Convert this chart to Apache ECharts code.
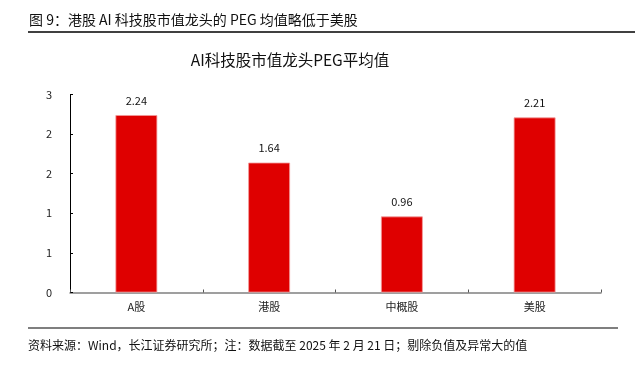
<!DOCTYPE html>
<html><head><meta charset="utf-8">
<script src="https://cdn.jsdelivr.net/npm/echarts@6/dist/echarts.min.js"></script>
<style>html,body{margin:0;padding:0;background:#fff;}#c{width:635px;height:372px;}</style>
</head><body><div id="c"></div>
<script>
var categories = ['A股', '港股', '中概股', '美股'];
var pegValues = [2.24, 1.64, 0.96, 2.21];
var headerText = '图 9：港股 AI 科技股市值龙头的 PEG 均值略低于美股';
var chartTitle = 'AI科技股市值龙头PEG平均值';
var footerText = '资料来源：Wind，长江证券研究所；注：数据截至 2025 年 2 月 21 日；剔除负值及异常大的值';

var font = '"Noto Sans CJK SC", "Liberation Sans", sans-serif';
var chart = echarts.init(document.getElementById('c'));
chart.setOption({
  animation: false,
  backgroundColor: '#fff',
  title: {
    text: chartTitle, left: 285, top: 47, textAlign: 'center',
    textStyle: { fontFamily: font, fontSize: 15.5, fontWeight: 'normal', color: '#111' }
  },
  graphic: [
    { type: 'text', left: 29, top: 13, style: { text: headerText, font: '14px ' + font, fill: '#111' } },
    { type: 'line', shape: { x1: 28, y1: 32, x2: 635, y2: 32 }, style: { stroke: '#000', lineWidth: 1.5 } },
    { type: 'line', shape: { x1: 28, y1: 328, x2: 618, y2: 328 }, style: { stroke: '#000', lineWidth: 1.2 } },
    { type: 'text', left: 28, top: 339, style: { text: footerText, font: '12px ' + font, fill: '#111' } }
  ],
  grid: { left: 70, right: 34, top: 94.5, bottom: 79.5 },
  xAxis: {
    type: 'category', data: categories,
    axisLine: { lineStyle: { color: '#808080', width: 1.5 } },
    axisTick: { show: true, alignWithLabel: false, length: 3, inside: true, lineStyle: { color: '#555' } },
    axisLabel: { fontFamily: font, fontSize: 11, color: '#222', margin: 9 }
  },
  yAxis: {
    type: 'value', min: 0, max: 2.5, interval: 0.5,
    splitLine: { show: false },
    axisLine: { show: true, lineStyle: { color: '#000', width: 1 } },
    axisTick: { show: true, inside: true, length: 3, lineStyle: { color: '#000' } },
    axisLabel: { fontFamily: font, fontSize: 11, color: '#222', margin: 18,
      formatter: function (v) { return String(Math.round(v)); } }
  },
  series: [{
    type: 'bar', data: pegValues, barWidth: '31.5%',
    itemStyle: { color: '#DF0000', borderColor: '#F39A9A', borderWidth: 0.8 },
    label: { show: true, position: 'top', distance: 9, fontFamily: font, fontSize: 11, color: '#111',
      formatter: function (p) { return p.value.toFixed(2); } }
  }]
});
</script></body></html>
